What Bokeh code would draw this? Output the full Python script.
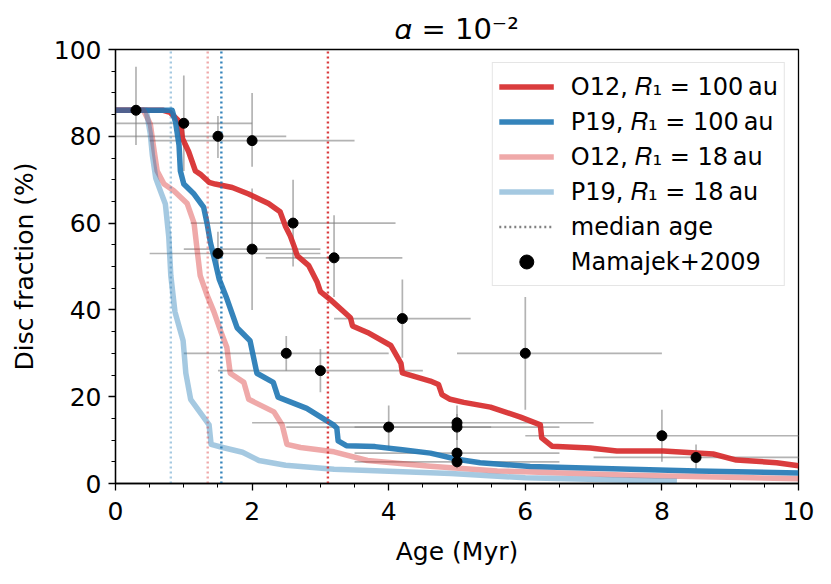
from bokeh.plotting import figure
from bokeh.models import Legend, LegendItem, ColumnDataSource, Range1d, FixedTicker
from bokeh.embed import file_html
from bokeh.resources import INLINE

# ---- model curves (disc fraction %, vs age Myr) ----
o12_100_x = [0, 0.70, 0.80, 0.95, 0.98, 1.07, 1.17, 1.24, 1.37, 1.46, 1.71, 1.95, 2.24, 2.41, 2.49, 2.56,
             2.63, 2.66, 2.83, 2.95, 3.0, 3.15, 3.44, 3.47, 3.69, 4.03, 4.18, 4.2, 4.61, 4.73, 4.78, 4.9,
             5.1, 5.49, 5.93, 6.22, 6.24, 6.39, 6.95, 7.34, 8.02, 8.75, 9.09, 9.68, 10.0]
o12_100_y = [86, 86, 85.5, 83.2, 79.5, 76.5, 72, 71.3, 69.4, 69, 68.2, 66.7, 64.5, 62.6, 59.2, 57,
             54, 52.5, 50.2, 46.5, 44.2, 42.3, 38.2, 36.3, 34.8, 31.8, 27.7, 25.5, 23.6, 22.8, 20.5, 19.4,
             18.7, 17.6, 15.3, 13.5, 10.5, 8.6, 8.2, 7.5, 7.5, 6.8, 5.4, 4.8, 4.1]

p19_100_x = [0, 0.83, 0.88, 0.93, 0.95, 1.0, 1.15, 1.29, 1.34, 1.39, 1.46, 1.52, 1.63, 1.78, 1.97, 2.07,
             2.31, 2.38, 2.8, 3.19, 3.24, 3.26, 3.38, 3.8, 4.2, 4.61, 5.0, 5.34, 6.07, 7.54, 8.51, 10.0]
p19_100_y = [86, 86, 83.2, 78, 72, 69, 66.7, 63.7, 60, 55.5, 51, 47, 42.6, 35.9, 32.9, 25.4,
             23.3, 19.9, 17.3, 13.5, 12.8, 9.8, 8.7, 8.5, 7.8, 7.0, 5.6, 4.8, 3.9, 3.3, 2.9, 2.4]

o12_18_x = [0, 0.41, 0.51, 0.56, 0.61, 0.71, 0.85, 1.05, 1.15, 1.2, 1.24, 1.34, 1.44, 1.54, 1.63, 1.68,
            1.88, 1.95, 2.32, 2.44, 2.51, 2.71, 3.2, 3.69, 4.61, 5.59, 7.54, 10.0]
o12_18_y = [86, 86, 82.8, 77.3, 72, 69, 67.5, 64.5, 60, 53.2, 47.9, 43.4, 39.6, 35.1, 31.4, 25.4,
            23.3, 19.4, 16.5, 13.5, 9, 8.3, 7.3, 5.3, 4.0, 2.9, 1.9, 1.1]

p19_18_x = [0, 0.45, 0.51, 0.54, 0.59, 0.66, 0.73, 0.78, 0.81, 0.87, 0.99, 1.03, 1.1, 1.27, 1.37, 1.40,
            1.57, 1.86, 2.1, 2.49, 3.2, 4.91, 6.0, 8.22]
p19_18_y = [86, 86, 80.5, 75.6, 70.3, 67.3, 64.4, 56.8, 47.9, 39.6, 32.9, 25.4, 19.4, 15.7, 13.5, 9,
            8.3, 7.2, 5.3, 4.2, 3.3, 2.3, 1.3, 0.5]

# median ages (Myr): P19 18au, O12 18au, P19 100au, O12 100au
median_age = [0.81, 1.35, 1.55, 3.11]

# ---- Mamajek (2009) observed disc fractions ----
obs_age = [0.3, 1.0, 1.5, 2.0, 2.6, 1.5, 2.0, 3.2, 4.2, 2.5, 3.0, 4.0, 5.0, 5.0, 5.0, 5.0, 6.0, 8.0, 8.5]
obs_frac = [86, 83, 80, 79, 60, 53, 54, 52, 38, 30, 26, 13, 14, 13, 7, 5, 30, 11, 6]
obs_age_lo = [0.3, 0.0, 0.0, 0.5, 1.1, 0.5, 1.0, 2.2, 3.2, 1.0, 1.5, 2.5, 2.0, 3.5, 3.5, 3.5, 5.0, 6.0, 7.0]
obs_age_hi = [0.3, 2.0, 2.5, 3.5, 4.1, 3.0, 3.0, 4.2, 5.2, 4.0, 4.5, 5.5, 7.0, 6.5, 6.5, 6.5, 8.0, 10.5, 10.5]
obs_frac_lo = [78, 72, 75, 73, 50, 48, 40, 43, 29, 26, 21, 8, 10, 10, 4, 3.5, 17, 5, 3.4]
obs_frac_hi = [96, 94, 84.7, 90, 70, 58, 68, 61.8, 47, 34, 31, 18, 18, 16, 10, 6.5, 43, 17, 9]

RED = "#d62728"
BLUE = "#1f77b4"
FONT = "DejaVu Sans"
NAN = float("nan")

p = figure(width=815, height=568, x_range=Range1d(0, 10), y_range=Range1d(0, 100),
           output_backend="svg", toolbar_location=None,
           min_border_left=115, min_border_right=17, min_border_top=49, min_border_bottom=75)

p.title.text = "\U0001D6FC = 10\u207B\u00B2"
p.title.align = "center"
p.title.text_font = FONT
p.title.text_font_size = "29px"
p.title.text_font_style = "normal"
p.title.text_color = "black"
p.title.standoff = 8

p.outline_line_color = "black"
p.outline_line_width = 1.3
p.xgrid.visible = False
p.ygrid.visible = False

for ax in (p.xaxis[0], p.yaxis[0]):
    ax.axis_line_width = 1.3
    ax.major_tick_line_width = 1.3
    ax.minor_tick_line_width = 1.0
    ax.major_tick_out = 7
    ax.major_tick_in = 0
    ax.minor_tick_out = 4
    ax.minor_tick_in = 0
    ax.major_label_text_font = FONT
    ax.major_label_text_font_size = "25px"
    ax.major_label_text_color = "black"
    ax.axis_label_text_font = FONT
    ax.axis_label_text_font_size = "25px"
    ax.axis_label_text_font_style = "normal"
    ax.axis_label_text_color = "black"

p.xaxis.ticker = FixedTicker(ticks=[0, 2, 4, 6, 8, 10],
                             minor_ticks=[i * 0.5 for i in range(21)])
p.yaxis.ticker = FixedTicker(ticks=[0, 20, 40, 60, 80, 100],
                             minor_ticks=[i * 5 for i in range(21)])
p.xaxis.axis_label = "Age (Myr)"
p.yaxis.axis_label = "Disc fraction (%)"
p.xaxis.major_label_standoff = 11
p.yaxis.major_label_standoff = 7
p.xaxis.axis_label_standoff = 14
p.yaxis.axis_label_standoff = 12

# error bars
src = ColumnDataSource(dict(x=obs_age, y=obs_frac, xlo=obs_age_lo, xhi=obs_age_hi,
                            ylo=obs_frac_lo, yhi=obs_frac_hi))
p.segment(x0="xlo", y0="y", x1="xhi", y1="y", source=src, line_color="gray", line_alpha=0.6, line_width=1.7)
p.segment(x0="x", y0="ylo", x1="x", y1="yhi", source=src, line_color="gray", line_alpha=0.6, line_width=1.7)

# curves
lw = 5.5
r1 = p.line(o12_100_x, o12_100_y, line_color=RED, line_alpha=0.9, line_width=lw, line_join="round")
r2 = p.line(p19_100_x, p19_100_y, line_color=BLUE, line_alpha=0.9, line_width=lw, line_join="round")
r3 = p.line(o12_18_x, o12_18_y, line_color=RED, line_alpha=0.4, line_width=lw, line_join="round")
r4 = p.line(p19_18_x, p19_18_y, line_color=BLUE, line_alpha=0.4, line_width=lw, line_join="round")

# median age lines
med_src = ColumnDataSource(dict(x=median_age, y0=[0] * 4, y1=[100] * 4,
                                c=[BLUE, RED, BLUE, RED], a=[0.4, 0.4, 0.9, 0.9]))
p.segment(x0="x", y0="y0", x1="x", y1="y1", source=med_src, line_color="c", line_alpha="a",
          line_width=2.4, line_dash="2 3")

# observed points
r_dots = p.scatter("x", "y", source=src, size=10, fill_color="black", line_color="black")

# legend proxy for the median-age entry (not visible in plot)
r_med = p.line([NAN, NAN], [NAN, NAN], line_color="gray", line_width=2.4, line_dash="2 3")

AU = "\u2009au"
legend = Legend(items=[
    LegendItem(label="O12, \U0001D445\u2081 = 100" + AU, renderers=[r1]),
    LegendItem(label="P19, \U0001D445\u2081 = 100" + AU, renderers=[r2]),
    LegendItem(label="O12, \U0001D445\u2081 = 18" + AU, renderers=[r3]),
    LegendItem(label="P19, \U0001D445\u2081 = 18" + AU, renderers=[r4]),
    LegendItem(label="median age", renderers=[r_med]),
    LegendItem(label="Mamajek+2009", renderers=[r_dots], index=0),
], location="top_right")
legend.label_text_font = FONT
legend.label_text_font_size = "24px"
legend.label_text_color = "black"
legend.glyph_width = 55
legend.glyph_height = 35
legend.label_height = 30
legend.label_standoff = 17
legend.spacing = 0
legend.padding = 6
legend.margin = 13
legend.border_line_color = "#cccccc"
legend.border_line_width = 1.2
legend.background_fill_alpha = 0.8
p.add_layout(legend, "center")

open("out.html", "w").write(file_html(p, INLINE))
